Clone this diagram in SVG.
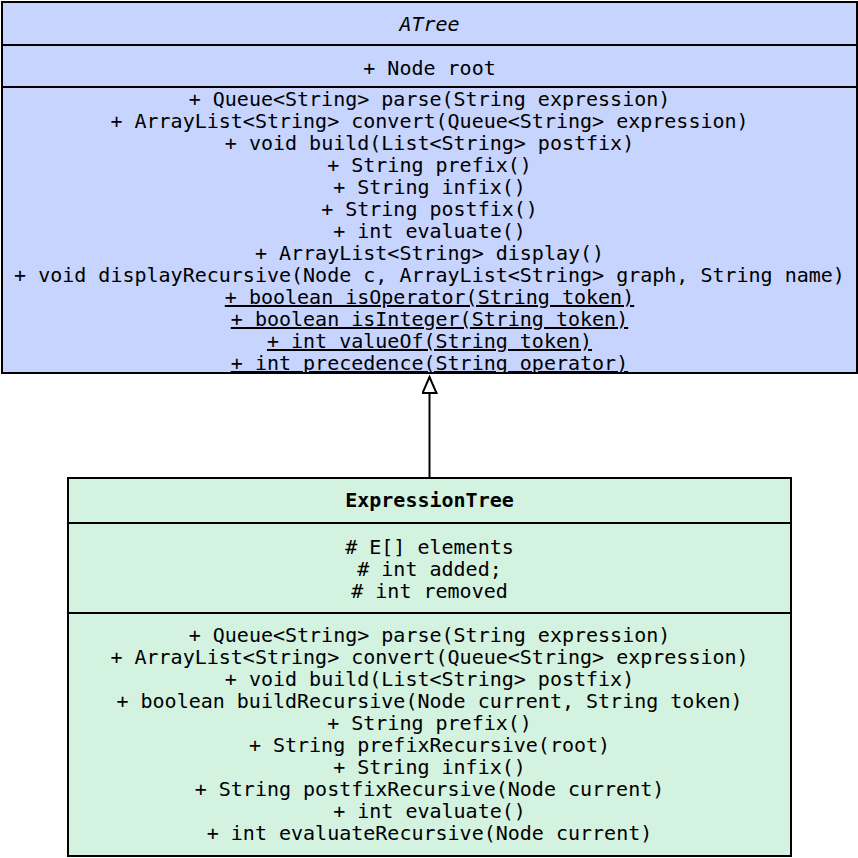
<svg xmlns="http://www.w3.org/2000/svg" width="858" height="858" viewBox="0 0 858 858">
<style>
text{font-family:"DejaVu Sans Mono",monospace;font-size:20px;text-anchor:middle;fill:#000}
.box{stroke:#000;stroke-width:2}
.a{fill:#c6d4fe}
.e{fill:#d3f2e0}
.div{stroke:#000;stroke-width:2}
.u{text-decoration:underline}
.i{font-style:italic}
.b{font-weight:bold}
</style>
<defs>
<marker id="tri" markerWidth="20" markerHeight="20" refX="17" refY="8" orient="auto" markerUnits="userSpaceOnUse">
<path d="M1,1 L17,8 L1,15 Z" fill="#fff" stroke="#000" stroke-width="2"/>
</marker>
</defs>
<g id="connectors">
<line x1="429.5" y1="478" x2="429.5" y2="377" stroke="#000" stroke-width="2" marker-end="url(#tri)"/>
</g>
<g id="ATree">
<rect class="box a" x="2" y="2" width="855" height="371"/>
<line class="div" x1="2" y1="45" x2="857" y2="45"/>
<line class="div" x1="2" y1="87" x2="857" y2="87"/>
<text class="i" x="429.5" y="31">ATree</text>
<text x="429.5" y="75">+ Node root</text>
<text x="429.5" y="106">+ Queue&lt;String&gt; parse(String expression)</text>
<text x="429.5" y="128">+ ArrayList&lt;String&gt; convert(Queue&lt;String&gt; expression)</text>
<text x="429.5" y="150">+ void build(List&lt;String&gt; postfix)</text>
<text x="429.5" y="172">+ String prefix()</text>
<text x="429.5" y="194">+ String infix()</text>
<text x="429.5" y="216">+ String postfix()</text>
<text x="429.5" y="238">+ int evaluate()</text>
<text x="429.5" y="260">+ ArrayList&lt;String&gt; display()</text>
<text x="429.5" y="282">+ void displayRecursive(Node c, ArrayList&lt;String&gt; graph, String name)</text>
<text class="u" x="429.5" y="304">+ boolean isOperator(String token)</text>
<text class="u" x="429.5" y="326">+ boolean isInteger(String token)</text>
<text class="u" x="429.5" y="348">+ int valueOf(String token)</text>
<text class="u" x="429.5" y="370">+ int precedence(String operator)</text>
</g>
<g id="ExpressionTree">
<rect class="box e" x="68" y="478" width="723" height="378"/>
<line class="div" x1="68" y1="523" x2="791" y2="523"/>
<line class="div" x1="68" y1="613" x2="791" y2="613"/>
<text class="b" x="429.5" y="507">ExpressionTree</text>
<text x="429.5" y="554"># E[] elements</text>
<text x="429.5" y="576"># int added;</text>
<text x="429.5" y="598"># int removed</text>
<text x="429.5" y="642">+ Queue&lt;String&gt; parse(String expression)</text>
<text x="429.5" y="664">+ ArrayList&lt;String&gt; convert(Queue&lt;String&gt; expression)</text>
<text x="429.5" y="686">+ void build(List&lt;String&gt; postfix)</text>
<text x="429.5" y="708">+ boolean buildRecursive(Node current, String token)</text>
<text x="429.5" y="730">+ String prefix()</text>
<text x="429.5" y="752">+ String prefixRecursive(root)</text>
<text x="429.5" y="774">+ String infix()</text>
<text x="429.5" y="796">+ String postfixRecursive(Node current)</text>
<text x="429.5" y="818">+ int evaluate()</text>
<text x="429.5" y="840">+ int evaluateRecursive(Node current)</text>
</g>
</svg>
